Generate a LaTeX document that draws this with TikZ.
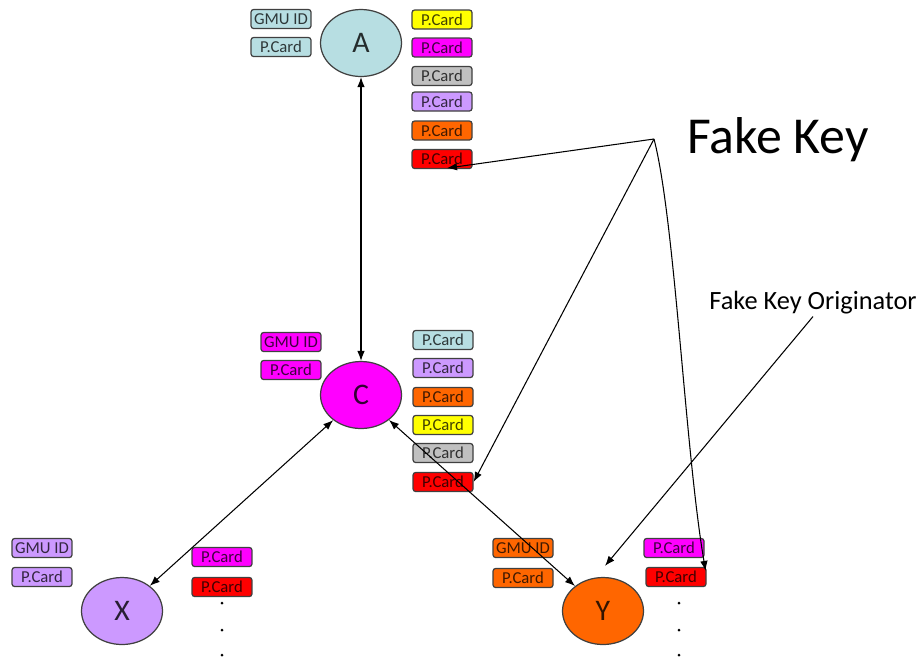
\documentclass[tikz,border=0pt]{standalone}
\usepackage{fontspec}
\setmainfont{Carlito}
\usetikzlibrary{shapes.geometric,arrows.meta,calc}

\definecolor{keycyan}{RGB}{183,222,226}
\definecolor{keymag}{RGB}{255,0,255}
\definecolor{keylav}{RGB}{204,153,255}
\definecolor{keyorg}{RGB}{255,102,0}
\definecolor{keyyel}{RGB}{255,255,0}
\definecolor{keygray}{RGB}{192,192,192}
\definecolor{keyred}{RGB}{255,0,0}
\definecolor{rim}{RGB}{64,64,64}

\def\bw{1.2cm}
\def\bh{0.38cm}
\def\ew{1.62cm}
\def\eh{1.34cm}
\def\tip{Latex[length=2mm,width=1.5mm]}

\begin{document}
\begin{tikzpicture}[x=0.02cm,y=-0.02cm,
  card/.style={draw=rim,line width=0.7pt,rounded corners=1.5pt,minimum width=\bw,minimum height=\bh,inner sep=0pt,font=\fontsize{9.5}{10}\selectfont,text opacity=0.75},
  user/.style={ellipse,draw=rim,line width=0.7pt,minimum width=\ew,minimum height=\eh,inner sep=0pt,font=\fontsize{17}{18}\selectfont,text opacity=0.8},
  link/.style={line width=0.6pt,{\tip}-{\tip}},
  fake/.style={line width=0.6pt,-{\tip}}]
 \useasboundingbox (0,0) rectangle (922,657);

 % users
 \node[user,fill=keycyan] (A) at (361,43) {A};
 \node[user,fill=keymag]  (C) at (361,395) {C};
 \node[user,fill=keylav]  (X) at (122,611) {X};
 \node[user,fill=keyorg]  (Y) at (603,611) {Y};

 % own id and card
 \node[card,fill=keycyan] (Aid) at (281,19) {GMU ID};
 \node[card,fill=keycyan] (Ap)  at (281,47) {P.Card};
 \node[card,fill=keymag]  (Cid) at (291,342) {GMU ID};
 \node[card,fill=keymag]  (Cp)  at (291,370) {P.Card};
 \node[card,fill=keylav]  (Xid) at (42,548) {GMU ID};
 \node[card,fill=keylav]  (Xp)  at (42,577) {P.Card};
 \node[card,fill=keyorg]  (Yid) at (523,548) {GMU ID};
 \node[card,fill=keyorg]  (Yp)  at (523,578) {P.Card};

 % collected cards
 \foreach \c/\y [count=\i] in {keyyel/19.5,keymag/47.5,keygray/76,keylav/101.5,keyorg/130.5,keyred/159}
   \node[card,fill=\c] (A\i) at (442,\y) {P.Card};
 \foreach \c/\y [count=\i] in {keycyan/340,keylav/368,keyorg/397,keyyel/425,keygray/453,keyred/482}
   \node[card,fill=\c] (C\i) at (443,\y) {P.Card};
 \node[card,fill=keymag] (X1) at (222,557) {P.Card};
 \node[card,fill=keyred] (X2) at (222,587) {P.Card};
 \node[card,fill=keymag] (Y1) at (674,548) {P.Card};
 \node[card,fill=keyred] (Y2) at (676,577) {P.Card};

 \foreach \yy in {603,630,655} {
   \fill (222,\yy) circle (0.03cm);
   \fill (679,\yy) circle (0.03cm);
 }

 % links
 \draw[link] (A) -- (C);
 \draw[link] (X) -- (C);
 \draw[link] (C) -- (Y);

 % fake key
 \node[font=\fontsize{29.5}{31}\selectfont] (FK) at (778,140) {Fake Key};
 \node[font=\fontsize{15}{17}\selectfont,inner sep=1pt] (FKO) at (813,303) {Fake Key Originator};
 \coordinate (src) at (654,139);
 \draw[fake] (src) -- ($(A6.south)+(5,-1)$);
 \draw[fake] (src) -- (C6.east);
 \draw[fake] (src) .. controls (675,220) and (685,450) .. ($(Y2.north east)+(-1,4)$);
 \draw[fake] (FKO.south) -- ($(Y.north)+(2,-11)$);
\end{tikzpicture}
\end{document}
